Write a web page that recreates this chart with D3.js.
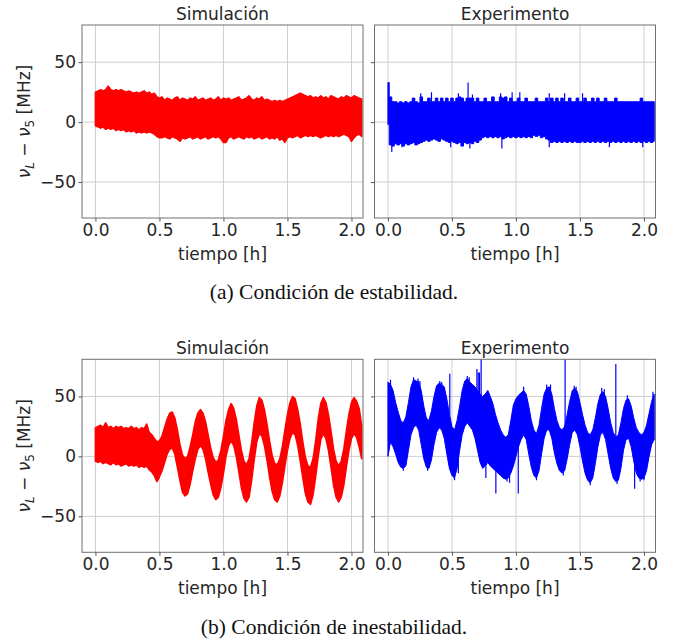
<!DOCTYPE html>
<html><head><meta charset="utf-8">
<script src="https://cdn.jsdelivr.net/npm/d3@7"></script>
<style>body{margin:0;background:#fff}</style>
</head><body>
<svg id="c" width="680" height="643"></svg>
<script>
// ---------------- DATA ----------------
const xTicks = [0.0, 0.5, 1.0, 1.5, 2.0];
const yTicks = [-50, 0, 50];
const panelTitles = ["Simulación", "Experimento", "Simulación", "Experimento"];
const xLabel = "tiempo [h]";
const captions = ["(a) Condición de estabilidad.", "(b) Condición de inestabilidad."];

// sample times [h]
const tiempo = [0,0.02,0.04,0.06,0.08,0.1,0.12,0.14,0.16,0.18,
  0.2,0.22,0.24,0.26,0.28,0.3,0.32,0.34,0.36,0.38,
  0.4,0.42,0.44,0.46,0.48,0.5,0.52,0.54,0.56,0.58,
  0.6,0.62,0.64,0.66,0.68,0.7,0.72,0.74,0.76,0.78,
  0.8,0.82,0.84,0.86,0.88,0.9,0.92,0.94,0.96,0.98,
  1,1.02,1.04,1.06,1.08,1.1,1.12,1.14,1.16,1.18,
  1.2,1.22,1.24,1.26,1.28,1.3,1.32,1.34,1.36,1.38,
  1.4,1.42,1.44,1.46,1.48,1.5,1.52,1.54,1.56,1.58,
  1.6,1.62,1.64,1.66,1.68,1.7,1.72,1.74,1.76,1.78,
  1.8,1.82,1.84,1.86,1.88,1.9,1.92,1.94,1.96,1.98,
  2,2.02,2.04,2.06,2.08];

// (a) stability – simulation: upper / lower envelope [MHz]
const aSimUpper = [25,26,27,26,27,30,27,26,27,26,
  27,26,25,26,25,24,25,24,25,26,
  24,25,23,24,21,20,21,18,20,19,
  18,20,21,18,20,19,18,20,19,21,
  18,19,20,18,19,20,18,19,21,18,
  20,19,20,18,19,20,21,18,19,20,
  22,19,18,20,19,21,18,19,18,17,
  18,17,18,17,18,19,20,21,22,23,
  24,23,22,21,22,20,21,20,22,20,
  21,19,22,21,20,19,21,20,22,21,
  20,22,21,20,19];
const aSimLower = [-3,-4,-5,-4,-6,-5,-6,-5,-7,-6,
  -7,-6,-8,-7,-8,-7,-9,-8,-9,-8,
  -9,-8,-9,-10,-12,-13,-13,-12,-13,-14,
  -12,-13,-14,-16,-13,-14,-13,-12,-14,-13,
  -12,-14,-13,-12,-14,-13,-12,-13,-12,-14,
  -17,-17,-13,-12,-14,-13,-12,-13,-14,-12,
  -13,-12,-14,-13,-12,-14,-13,-12,-14,-13,
  -14,-12,-15,-14,-17,-13,-12,-13,-12,-11,
  -13,-12,-11,-12,-11,-12,-11,-12,-13,-12,
  -11,-12,-11,-12,-11,-12,-11,-10,-11,-12,
  -16,-13,-11,-10,-12];

// (a) stability – experiment
const aExpUpper = [33,21,17,17,16,17,16,17,16,17,
  20,17,16,21,17,17,20,17,17,20,
  17,20,17,20,17,20,17,20,21,20,
  17,20,20,20,17,20,17,17,20,17,
  17,21,17,17,21,20,21,17,20,17,
  17,20,17,17,20,17,17,17,20,17,
  17,17,20,17,20,17,20,17,20,17,
  17,20,17,17,20,17,17,20,17,17,
  20,17,20,17,17,20,17,17,17,20,
  17,17,17,17,17,17,17,17,17,20,
  17,17,17,17,17];
const aExpLower = [-2,-19,-20,-18,-19,-18,-20,-18,-19,-18,
  -17,-19,-18,-17,-16,-15,-16,-15,-14,-15,
  -16,-14,-15,-16,-17,-16,-17,-18,-17,-20,
  -17,-18,-17,-18,-16,-17,-15,-13,-12,-13,
  -12,-13,-12,-13,-12,-14,-13,-12,-13,-12,
  -13,-12,-13,-12,-13,-12,-13,-11,-12,-11,
  -13,-12,-14,-15,-17,-16,-17,-16,-17,-16,
  -17,-16,-17,-16,-17,-17,-16,-17,-16,-17,
  -16,-17,-16,-17,-16,-17,-16,-17,-16,-17,
  -16,-17,-16,-17,-16,-17,-16,-17,-16,-17,
  -16,-17,-16,-17,-16];
const aExpSpikeT = [0.256,0.34,0.55,0.626,0.66,0.88,0.97,1.03,1.26,1.38,1.52,0.03,0.11,0.49,0.64,0.89,1.26,1.73,1.99];
const aExpSpikeV = [24,25,24,33,23,24,25,25,24,24,24,-25,-21,-21,-22,-22,-21,-21,-21];

// (b) instability – simulation
const bSimUpper = [24,25,26,24,28,24,25,23,25,24,
  25,23,24,23,25,23,24,22,24,23,
  27,20,18,15,12,13,17,24,31,36,
  37,32,22,10,1,-2,0,8,18,29,
  36,39,36,29,18,7,-1,-5,-3,5,
  17,30,39,44,40,31,18,5,-4,-7,
  -2,11,28,42,49,47,39,27,13,1,
  -6,-7,-2,8,22,35,45,50,48,39,
  27,12,-1,-8,-9,-2,13,31,44,49,
  45,35,21,6,-4,-8,-4,6,21,35,
  45,49,46,40,25];
const bSimLower = [-4,-5,-4,-6,-5,-6,-7,-5,-7,-6,
  -8,-7,-6,-8,-7,-8,-7,-9,-8,-9,
  -8,-11,-13,-16,-21,-17,-12,-5,2,6,
  7,2,-9,-20,-30,-33,-31,-23,-12,-2,
  6,9,6,-2,-13,-23,-32,-36,-34,-26,
  -14,0,9,13,9,0,-13,-26,-35,-38,
  -34,-20,-3,12,19,17,9,-3,-17,-29,
  -36,-38,-33,-22,-8,5,15,20,18,9,
  -4,-18,-31,-38,-40,-32,-17,0,14,19,
  15,5,-9,-24,-34,-38,-34,-24,-9,5,
  15,19,16,8,-2];

// (b) instability – experiment
const bExpUpper = [62,60,55,45,37,30,28,33,45,58,
  64,63,62,55,42,32,30,38,50,59,
  61,60,58,48,35,25,22,30,42,55,
  63,65,62,60,58,55,52,50,52,55,
  50,44,35,28,22,18,16,18,30,43,
  48,51,53,55,52,42,30,22,19,26,
  40,52,57,58,52,40,30,24,22,25,
  35,46,55,57,54,45,35,26,20,18,
  22,32,44,52,54,50,40,28,20,16,
  18,28,40,47,48,42,32,24,20,18,
  20,26,36,46,52];
const bExpLower = [0,12,8,2,-5,-9,-10,-8,5,18,
  24,26,22,10,-2,-9,-10,-3,10,20,
  24,22,15,2,-10,-16,-18,-10,5,18,
  25,28,25,22,15,5,-5,-10,-8,-5,
  -8,-10,-12,-14,-16,-18,-19,-18,-14,-8,
  0,8,14,18,14,2,-9,-16,-18,-12,
  2,15,22,22,15,3,-6,-12,-14,-12,
  -2,10,20,22,18,8,-4,-14,-20,-22,
  -18,-6,8,18,20,14,2,-10,-18,-21,
  -20,-10,5,14,15,8,-4,-14,-18,-19,
  -18,-12,0,10,14];
const bExpSpikeT = [0.483,0.695,0.715,0.728,1.384,1.78,0.843,1.018,1.927,0.765,
  0.02,0.2,0.235,0.25,0.405,0.42,0.62,0.635,0.705,1.06,1.24,1.27,1.455,1.47,1.67,1.69,1.87,2.07,
  0.12,0.31,0.52,0.55,0.93,0.95,1.16,1.37,1.58,1.79,1.97,2.0];
const bExpSpikeV = [69,73,70,84,82,77,-31,-31,-27,-18,
  64,66,65,63,63,62,67,66,70,58,60,60,59,58,57,56,51,54,
  -12,-12,-20,-14,-21,-22,-20,-16,-24,-23,-21,-20];

// ---------------- DRAW ----------------
const svg = d3.select("#c");
const W = 281, H = 193;
const xDomain = [-0.105, 2.09];
const yDomain = [-80, 81];
const SANS = "'DejaVu Sans', sans-serif";
const TXT = "#262626";

const panels = [
  {id:0, left:82,    top:25,    title:panelTitles[0], color:"#ff0000", up:aSimUpper, lo:aSimLower, curve:d3.curveLinear, sw:1.6, showY:true},
  {id:1, left:374.5, top:25,    title:panelTitles[1], color:"#0000ff", up:aExpUpper, lo:aExpLower, curve:d3.curveStep, sw:1, showY:false, sT:aExpSpikeT, sV:aExpSpikeV},
  {id:2, left:82,    top:359.3, title:panelTitles[2], color:"#ff0000", up:bSimUpper, lo:bSimLower, curve:d3.curveLinear, sw:1.6, showY:true},
  {id:3, left:374.5, top:359.3, title:panelTitles[3], color:"#0000ff", up:bExpUpper, lo:bExpLower, curve:d3.curveLinear, sw:1, showY:false, sT:bExpSpikeT, sV:bExpSpikeV}
];

panels.forEach(cfg => {
  const g = svg.append("g").attr("transform", `translate(${cfg.left},${cfg.top})`);
  const x = d3.scaleLinear().domain(xDomain).range([0, W]);
  const y = d3.scaleLinear().domain(yDomain).range([H, 0]);

  // grid
  g.append("g").selectAll("line").data(xTicks).join("line")
    .attr("x1", d => x(d)).attr("x2", d => x(d)).attr("y1", 0).attr("y2", H)
    .attr("stroke", "#cfcfcf").attr("stroke-width", 1);
  g.append("g").selectAll("line").data(yTicks).join("line")
    .attr("x1", 0).attr("x2", W).attr("y1", d => y(d)).attr("y2", d => y(d))
    .attr("stroke", "#cfcfcf").attr("stroke-width", 1);

  // clip
  const cid = "clip" + cfg.id;
  g.append("clipPath").attr("id", cid).append("rect").attr("width", W).attr("height", H);
  const pg = g.append("g").attr("clip-path", `url(#${cid})`);

  const data = tiempo.map((t, i) => ({t: t, hi: cfg.up[i], lo: cfg.lo[i]}));
  const area = d3.area().x(d => x(d.t)).y0(d => y(d.lo)).y1(d => y(d.hi)).curve(cfg.curve);
  pg.append("path").datum(data).attr("d", area)
    .attr("fill", cfg.color).attr("stroke", cfg.color)
    .attr("stroke-width", cfg.sw).attr("stroke-linejoin", "round");

  if (cfg.sT) {
    const spikes = cfg.sT.map((t, i) => {
      const k = d3.minIndex(tiempo, tt => Math.abs(tt - t));
      return {t: t, v: cfg.sV[i], base: (cfg.up[k] + cfg.lo[k]) / 2};
    });
    pg.append("g").selectAll("line").data(spikes).join("line")
      .attr("x1", d => x(d.t)).attr("x2", d => x(d.t))
      .attr("y1", d => y(d.base)).attr("y2", d => y(d.v))
      .attr("stroke", cfg.color).attr("stroke-width", 1.2);
  }

  // frame
  g.append("rect").attr("x", 0).attr("y", 0).attr("width", W).attr("height", H)
    .attr("fill", "none").attr("stroke", "#707070").attr("stroke-width", 1);

  // axes
  const ax = g.append("g").attr("transform", `translate(0,${H})`)
    .call(d3.axisBottom(x).tickValues(xTicks).tickFormat(d3.format(".1f")).tickSize(3.5).tickPadding(2.5));
  const ay = g.append("g")
    .call(d3.axisLeft(y).tickValues(yTicks).tickSize(3.5).tickPadding(2.5)
      .tickFormat(cfg.showY ? d3.format("d") : () => ""));
  [ax, ay].forEach(a => {
    a.select(".domain").remove();
    a.attr("font-family", SANS).attr("font-size", 17);
    a.selectAll("line").attr("stroke", "#555");
    a.selectAll("text").attr("fill", TXT);
  });

  // title
  g.append("text").attr("x", W / 2).attr("y", -5.5).attr("text-anchor", "middle")
    .attr("font-family", SANS).attr("font-size", 17).attr("fill", TXT).text(cfg.title);
  // x label
  g.append("text").attr("x", W / 2).attr("y", H + 41.5).attr("text-anchor", "middle")
    .attr("font-family", SANS).attr("font-size", 17).attr("fill", TXT).text(xLabel);

  // y label
  if (cfg.showY) {
    const yl = svg.append("text")
      .attr("transform", `translate(30,${cfg.top + H / 2}) rotate(-90)`)
      .attr("text-anchor", "middle").attr("font-family", SANS).attr("font-size", 17).attr("fill", TXT);
    yl.append("tspan").attr("font-style", "italic").text("ν");
    yl.append("tspan").attr("font-size", 12).attr("dy", 3.5).attr("font-style", "italic").text("L");
    yl.append("tspan").attr("dy", -3.5).text(" − ");
    yl.append("tspan").attr("font-style", "italic").text("ν");
    yl.append("tspan").attr("font-size", 12).attr("dy", 3.5).text("5");
    yl.append("tspan").attr("dy", -3.5).text(" [MHz]");
  }
});

// captions
const capY = [299, 634];
captions.forEach((c, i) => {
  svg.append("text").attr("x", 334).attr("y", capY[i]).attr("text-anchor", "middle")
    .attr("font-family", "'Liberation Serif', 'Times New Roman', serif").attr("font-size", 21.5)
    .attr("fill", "#111").text(c);
});
</script>
</body></html>
